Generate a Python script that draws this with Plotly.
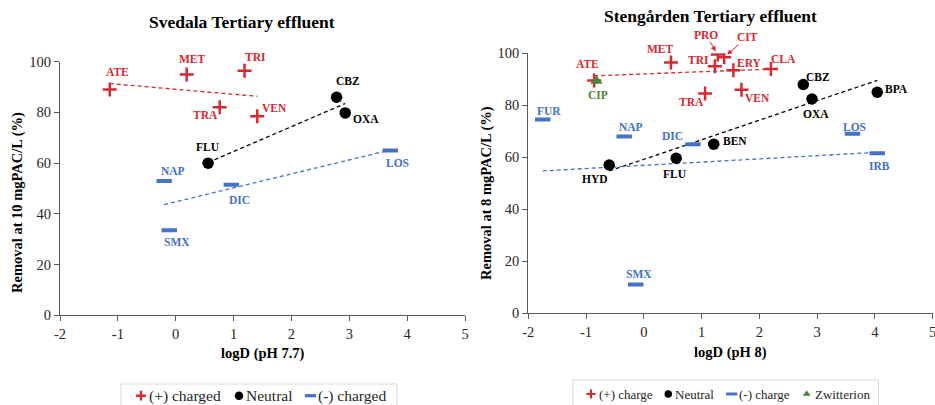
import numpy as np
import plotly.graph_objects as go

# ---------------- data ----------------
# Svedala (logD pH 7.7, removal at 10 mgPAC/L)
sv_pos_names = ["ATE", "MET", "TRI", "TRA", "VEN"]
sv_pos_x = [-1.14, 0.19, 1.19, 0.76, 1.41]
sv_pos_y = [89.0, 95.0, 96.4, 82.0, 78.5]

sv_neu_names = ["FLU", "CBZ", "OXA"]
sv_neu_x = [0.56, 2.78, 2.93]
sv_neu_y = [60.0, 86.0, 79.8]

sv_neg_names = ["NAP", "DIC", "LOS", "SMX"]
sv_neg_x = [-0.20, 0.96, 3.71, -0.11]
sv_neg_y = [53.0, 51.5, 65.0, 33.5]

# Stengarden (logD pH 8, removal at 8 mgPAC/L)
st_pos_names = ["ATE", "MET", "PRO", "CIT", "TRI", "ERY", "CLA", "TRA", "VEN"]
st_pos_x = [-0.86, 0.47, 1.28, 1.39, 1.23, 1.55, 2.20, 1.06, 1.69]
st_pos_y = [89.5, 96.5, 99.5, 98.5, 95.0, 93.5, 94.0, 84.5, 86.0]

st_neu_names = ["HYD", "FLU", "BEN", "CBZ", "OXA", "BPA"]
st_neu_x = [-0.60, 0.56, 1.21, 2.76, 2.91, 4.04]
st_neu_y = [57.0, 59.6, 65.0, 88.0, 82.4, 85.0]

st_neg_names = ["FUR", "NAP", "DIC", "LOS", "IRB", "SMX"]
st_neg_x = [-1.75, -0.34, 0.85, 3.61, 4.04, -0.14]
st_neg_y = [74.5, 68.0, 65.0, 69.0, 61.5, 11.0]

st_zw_names = ["CIP"]
st_zw_x = [-0.82]
st_zw_y = [89.3]

sv_legend_names = ["(+) charged", "Neutral", "(-) charged"]
st_legend_names = ["(+) charge", "Neutral", "(-) charge", "Zwitterion"]

x_tick_vals = [-2, -1, 0, 1, 2, 3, 4, 5]
x_tick_text = ["-2", "-1", "0", "1", "2", "3", "4", "5"]
y_tick_vals = [0, 20, 40, 60, 80, 100]

# ---------------- styles ----------------
RED = "#D6282E"
BLACK = "#000000"
BLUE = "#4472C4"
GREEN = "#548235"
FONT = "Liberation Serif, Times New Roman, Times, serif"
W, H = 935, 405

# label offsets in pixels (dx, dy up)
sv_off = {
    "ATE": (8, 18), "MET": (6, 15), "TRI": (11, 14), "TRA": (-14, -8), "VEN": (17, 8),
    "FLU": (0, 16), "CBZ": (11, 16), "OXA": (21, -6),
    "NAP": (9, 10), "DIC": (8, -15), "LOS": (7, -13), "SMX": (8, -12),
}
st_off = {
    "ATE": (-7, 17), "MET": (-11, 13), "TRI": (-16, 6), "ERY": (16, 7), "CLA": (13, 10),
    "TRA": (-14, -8), "VEN": (16, -8),
    "HYD": (-14, -14), "FLU": (-1, -16), "BEN": (21, 3), "CBZ": (15, 7), "OXA": (4, -15),
    "BPA": (19, 3),
    "FUR": (6, 9), "NAP": (7, 9), "DIC": (-20, 8), "LOS": (2, 7), "IRB": (2, -13), "SMX": (3, 10),
    "CIP": (2, -14),
}
st_arrow = {"PRO": (-12, -20), "CIT": (23, -20)}

# legend layout (pixels): symbol x, text start x
sv_leg_sym_x = [141, 239, 310.5]
sv_leg_txt_x = [146.5, 243.5, 316]
sv_leg_y = 395.7
sv_leg_box = (121, 384, 397, 412)
st_leg_sym_x = [591, 668.3, 731.7, 806.7]
st_leg_txt_x = [596.5, 673.3, 736.7, 813.3]
st_leg_y = 394
st_leg_box = (573, 380, 878.5, 412)

fig = go.Figure()


def marker_style(symbol, color, size, lw):
    if symbol in ("cross-thin", "line-ew"):
        return dict(symbol=symbol, size=size, color=color, line=dict(color=color, width=lw))
    return dict(symbol=symbol, size=size, color=color, line=dict(width=0))


def add_series(xs, ys, name, symbol, color, size, lw, xa, ya):
    fig.add_trace(go.Scatter(x=xs, y=ys, mode="markers", name=name,
                             marker=marker_style(symbol, color, size, lw),
                             xaxis=xa, yaxis=ya, showlegend=False, hoverinfo="skip"))


def add_trend(xs, ys, color, xa, ya):
    k, b = np.polyfit(xs, ys, 1)
    x0, x1 = min(xs), max(xs)
    fig.add_trace(go.Scatter(x=[x0, x1], y=[k * x0 + b, k * x1 + b], mode="lines",
                             line=dict(color=color, width=1.3, dash="4px,3px"),
                             xaxis=xa, yaxis=ya, showlegend=False, hoverinfo="skip"))


# trendlines first (under markers)
add_trend(sv_pos_x, sv_pos_y, RED, "x", "y")
add_trend(sv_neu_x, sv_neu_y, BLACK, "x", "y")
add_trend(sv_neg_x, sv_neg_y, BLUE, "x", "y")
add_trend(st_pos_x, st_pos_y, RED, "x2", "y2")
add_trend(st_neu_x, st_neu_y, BLACK, "x2", "y2")
add_trend(st_neg_x, st_neg_y, BLUE, "x2", "y2")

styles = [("cross-thin", RED, 10, 2.5), ("circle", BLACK, 11.5, 0), ("line-ew", BLUE, 11, 4),
          ("triangle-up", GREEN, 11, 0)]

add_series(sv_pos_x, sv_pos_y, sv_legend_names[0], *styles[0], "x", "y")
add_series(sv_neu_x, sv_neu_y, sv_legend_names[1], *styles[1], "x", "y")
add_series(sv_neg_x, sv_neg_y, sv_legend_names[2], *styles[2], "x", "y")

add_series(st_pos_x, st_pos_y, st_legend_names[0], *styles[0], "x2", "y2")
add_series(st_neu_x, st_neu_y, st_legend_names[1], *styles[1], "x2", "y2")
add_series(st_neg_x, st_neg_y, st_legend_names[2], *styles[2], "x2", "y2")
add_series(st_zw_x, st_zw_y, st_legend_names[3], *styles[3], "x2", "y2")

annotations = []
shapes = []


def add_labels(names, xs, ys, color, offs, xref, yref):
    for n, x, y in zip(names, xs, ys):
        f = dict(family=FONT, size=11.5, color=color, weight="bold")
        if n in offs:
            dx, dy = offs[n]
            annotations.append(dict(x=x, y=y, xref=xref, yref=yref, text=n, showarrow=False,
                                    xshift=dx, yshift=dy, font=f))
        elif n in st_arrow:
            ax, ay = st_arrow[n]
            annotations.append(dict(x=x, y=y, xref=xref, yref=yref, text=n, showarrow=True,
                                    ax=ax, ay=ay, arrowhead=2, arrowsize=1, arrowwidth=1,
                                    arrowcolor=color, standoff=4, font=f))


add_labels(sv_pos_names, sv_pos_x, sv_pos_y, RED, sv_off, "x", "y")
add_labels(sv_neu_names, sv_neu_x, sv_neu_y, BLACK, sv_off, "x", "y")
add_labels(sv_neg_names, sv_neg_x, sv_neg_y, BLUE, sv_off, "x", "y")
add_labels(st_pos_names, st_pos_x, st_pos_y, RED, st_off, "x2", "y2")
add_labels(st_neu_names, st_neu_x, st_neu_y, BLACK, st_off, "x2", "y2")
add_labels(st_neg_names, st_neg_x, st_neg_y, BLUE, st_off, "x2", "y2")
add_labels(st_zw_names, st_zw_x, st_zw_y, GREEN, st_off, "x2", "y2")


def px(xp):
    return xp / W


def py(yp):
    return 1 - yp / H


def paper_text(text, x, y, size, angle=0, bold=True, anchor="center", color="#000000"):
    annotations.append(dict(x=px(x), y=py(y), xref="paper", yref="paper", text=text,
                            showarrow=False, textangle=angle, xanchor=anchor, yanchor="middle",
                            font=dict(family=FONT, size=size, color=color,
                                      weight="bold" if bold else "normal")))


paper_text("Svedala Tertiary effluent", 242.5, 21.5, 17.5)
paper_text("Stengården Tertiary effluent", 710, 16, 17.5)
paper_text("logD (pH 7.7)", 262.5, 353, 14.5)
paper_text("logD (pH 8)", 730, 352, 14.5)
paper_text("Removal at 10 mgPAC/L (%)", 17, 203, 14.5, -90)
paper_text("Removal at 8 mgPAC/L (%)", 486, 193, 14.5, -90)

# custom legends: boxes, texts and symbols (symbols on a pixel overlay axis)
for box in (sv_leg_box, st_leg_box):
    shapes.append(dict(type="rect", xref="paper", yref="paper",
                       x0=px(box[0]), y0=py(box[3]), x1=px(box[2]), y1=py(box[1]),
                       line=dict(color="#d9d9d9", width=1), fillcolor="white", layer="below"))

for name, tx in zip(sv_legend_names, sv_leg_txt_x):
    paper_text(name, tx, sv_leg_y, 15.5, bold=False, anchor="left", color="#262626")
for name, tx in zip(st_legend_names, st_leg_txt_x):
    paper_text(name, tx, st_leg_y, 13, bold=False, anchor="left", color="#262626")

leg_styles_sv = [("cross-thin", RED, 7, 2.4), ("circle", BLACK, 8.5, 0), ("line-ew", BLUE, 8, 3.2)]
leg_styles_st = [("cross-thin", RED, 6.5, 2.2), ("circle", BLACK, 7.5, 0), ("line-ew", BLUE, 8, 3),
                 ("triangle-up", GREEN, 7, 0)]
for sx, st in zip(sv_leg_sym_x, leg_styles_sv):
    fig.add_trace(go.Scatter(x=[sx], y=[sv_leg_y], mode="markers", marker=marker_style(*st),
                             xaxis="x3", yaxis="y3", showlegend=False, hoverinfo="skip"))
for sx, st in zip(st_leg_sym_x, leg_styles_st):
    fig.add_trace(go.Scatter(x=[sx], y=[st_leg_y], mode="markers", marker=marker_style(*st),
                             xaxis="x3", yaxis="y3", showlegend=False, hoverinfo="skip"))

axis_common = dict(showgrid=False, zeroline=False, showline=True, linecolor="#595959",
                   linewidth=1.3, ticks="outside", ticklen=5, tickcolor="#595959", tickwidth=1.3,
                   tickfont=dict(family=FONT, size=14.5, color="#262626"), fixedrange=True,
                   automargin=False, ticklabeloverflow="allow")

fig.update_layout(
    template="none",
    width=W, height=H,
    margin=dict(l=0, r=0, t=0, b=0, pad=0, autoexpand=False),
    paper_bgcolor="white", plot_bgcolor="rgba(0,0,0,0)",
    font=dict(family=FONT),
    xaxis=dict(domain=[px(60), px(465)], range=[-2, 5], anchor="y",
               tickvals=x_tick_vals, ticktext=x_tick_text, **axis_common),
    yaxis=dict(domain=[py(315.3), py(61.7)], range=[0, 100], anchor="x",
               tickvals=y_tick_vals, **axis_common),
    xaxis2=dict(domain=[px(528.3), px(932.7)], range=[-2, 5], anchor="y2",
                tickvals=x_tick_vals, ticktext=x_tick_text, **axis_common),
    yaxis2=dict(domain=[py(313), py(53.3)], range=[0, 100], anchor="x2",
                tickvals=y_tick_vals, **axis_common),
    xaxis3=dict(domain=[0, 1], range=[0, W], visible=False, fixedrange=True, anchor="y3",
                automargin=False),
    yaxis3=dict(domain=[0, 1], range=[H, 0], visible=False, fixedrange=True, anchor="x3",
                automargin=False),
    annotations=annotations,
    shapes=shapes,
    showlegend=False,
)

fig.write_html("out.html", config={"displayModeBar": False})
